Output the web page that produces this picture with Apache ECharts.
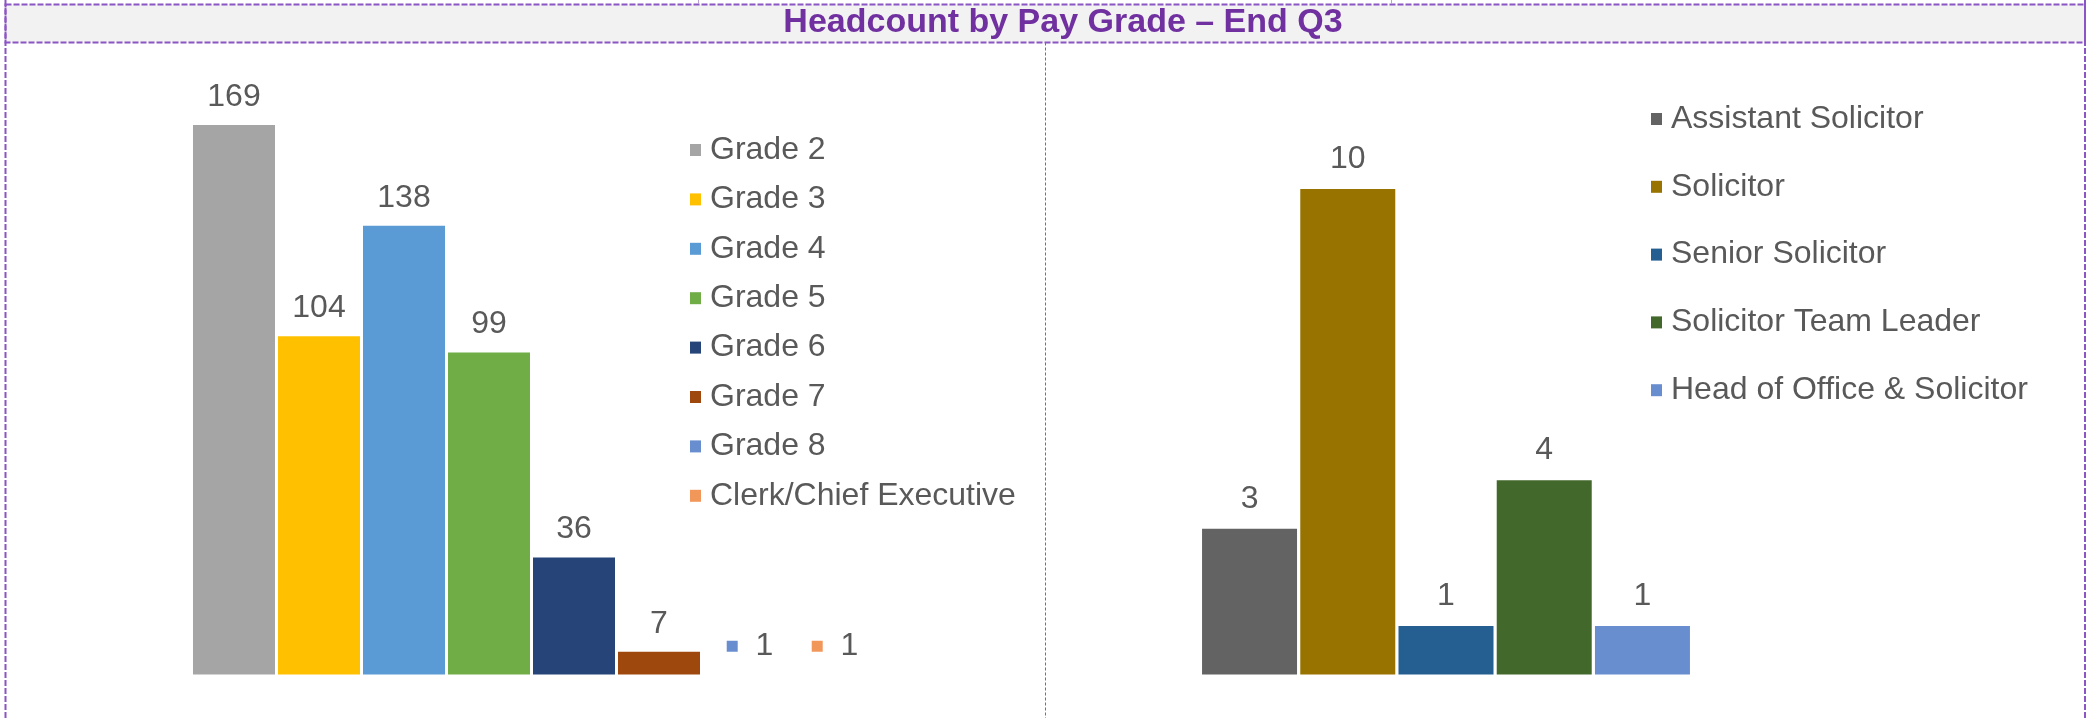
<!DOCTYPE html>
<html>
<head>
<meta charset="utf-8">
<script src="https://cdn.jsdelivr.net/npm/echarts@6/dist/echarts.min.js"></script>
<style>
  html, body { margin: 0; padding: 0; background: #fff; }
  #chart { width: 2092px; height: 718px; }
</style>
</head>
<body>
<div id="chart"></div>
<script>
var titleText = 'Headcount by Pay Grade – End Q3';

// left chart: pay grades
var gradeNames = ['Grade 2', 'Grade 3', 'Grade 4', 'Grade 5', 'Grade 6', 'Grade 7', 'Grade 8', 'Clerk/Chief Executive'];
var gradeValues = [169, 104, 138, 99, 36, 7, 1, 1];
var gradeColors = ['#a5a5a5', '#ffc000', '#5b9bd5', '#70ad47', '#264478', '#9e480e', '#698ed0', '#f1975a'];
// these two show only a label with legend key, no bar fill
var gradeKeyLabel = [false, false, false, false, false, false, true, true];

// right chart: solicitors
var solNames = ['Assistant Solicitor', 'Solicitor', 'Senior Solicitor', 'Solicitor Team Leader', 'Head of Office & Solicitor'];
var solValues = [3, 10, 1, 4, 1];
var solColors = ['#636363', '#997300', '#255e91', '#43682b', '#698ed0'];

var FONT = '"Liberation Sans", Arial, sans-serif';
var TXT = '#595959';
var BORDER = '#8a55c4';
var FS = 32;

var series = [];
gradeNames.forEach(function(name, i) {
    var s = {
        name: name,
        type: 'bar',
        xAxisIndex: 0,
        yAxisIndex: 0,
        barWidth: 82,
        barGap: '3.66%',
        data: [gradeValues[i]],
        itemStyle: { color: gradeColors[i] },
        label: {
            show: true,
            position: 'top',
            distance: 12,
            color: TXT,
            fontFamily: FONT,
            fontSize: FS
        }
    };
    if (gradeKeyLabel[i]) {
        s.itemStyle = { color: 'rgba(255,255,255,0)' };
        s.label.distance = 9;
        s.label.offset = [6, 0];
        s.label.formatter = '{m|}  {v|{c}}';
        s.label.rich = {
            m: { width: 11, height: 11, backgroundColor: gradeColors[i] },
            v: { color: TXT, fontFamily: FONT, fontSize: FS }
        };
    }
    series.push(s);
});
solNames.forEach(function(name, i) {
    series.push({
        name: name,
        type: 'bar',
        xAxisIndex: 1,
        yAxisIndex: 1,
        barWidth: 95,
        barGap: '3.4%',
        data: [solValues[i]],
        itemStyle: { color: solColors[i] },
        label: {
            show: true,
            position: 'top',
            distance: 14,
            color: TXT,
            fontFamily: FONT,
            fontSize: FS
        }
    });
});

var legendText = { color: TXT, fontFamily: FONT, fontSize: FS, lineHeight: 30, padding: [0, 0, 0, 4] };

var option = {
    animation: false,
    backgroundColor: '#ffffff',
    graphic: [
        { type: 'rect', shape: { x: 5.5, y: 4.5, width: 2079.5, height: 38 },
          style: { fill: '#f2f2f2', stroke: BORDER, lineWidth: 2, lineDash: [6, 2] }, z: -1 },
        { type: 'line', shape: { x1: 5.5, y1: 0, x2: 5.5, y2: 718 },
          style: { stroke: BORDER, lineWidth: 2, lineDash: [6, 2] } },
        { type: 'line', shape: { x1: 2085, y1: 0, x2: 2085, y2: 718 },
          style: { stroke: BORDER, lineWidth: 2, lineDash: [6, 2] } },
        { type: 'line', shape: { x1: 1045.5, y1: 42.5, x2: 1045.5, y2: 718 },
          style: { stroke: BORDER, lineWidth: 1, lineDash: [3, 2] } },
        { type: 'line', shape: { x1: 698.5, y1: 0, x2: 698.5, y2: 4 },
          style: { stroke: '#b9a0d0', lineWidth: 1 } },
        { type: 'line', shape: { x1: 1391.5, y1: 0, x2: 1391.5, y2: 4 },
          style: { stroke: '#b9a0d0', lineWidth: 1 } }
    ],
    title: {
        text: titleText,
        left: 1063,
        top: 23,
        textAlign: 'center',
        textVerticalAlign: 'middle',
        padding: 0,
        textStyle: { color: '#7030a0', fontFamily: FONT, fontSize: 34, fontWeight: 'bold' }
    },
    legend: [
        {
            data: gradeNames.map(function(n, i) {
                return { name: n, itemStyle: { color: gradeColors[i], opacity: 1 } };
            }),
            orient: 'vertical',
            left: 690,
            top: 134,
            padding: 0,
            itemGap: 17.4,
            itemWidth: 11,
            itemHeight: 12,
            icon: 'rect',
            selectedMode: false,
            textStyle: legendText
        },
        {
            data: solNames,
            orient: 'vertical',
            left: 1651,
            top: 103,
            padding: 0,
            itemGap: 35.8,
            itemWidth: 11,
            itemHeight: 12,
            icon: 'rect',
            selectedMode: false,
            textStyle: legendText
        }
    ],
    grid: [
        { left: 150, width: 763, top: 89.2, bottom: 43.5 },
        { left: 1146, width: 600, top: 140.4, bottom: 43.5 }
    ],
    xAxis: [
        { type: 'category', gridIndex: 0, data: ['Pay Grade'], show: false },
        { type: 'category', gridIndex: 1, data: ['Solicitors'], show: false }
    ],
    yAxis: [
        { type: 'value', gridIndex: 0, min: 0, max: 180, show: false, splitLine: { show: false } },
        { type: 'value', gridIndex: 1, min: 0, max: 11, show: false, splitLine: { show: false } }
    ],
    series: series
};

var myChart = echarts.init(document.getElementById('chart'));
myChart.setOption(option);
</script>
</body>
</html>
